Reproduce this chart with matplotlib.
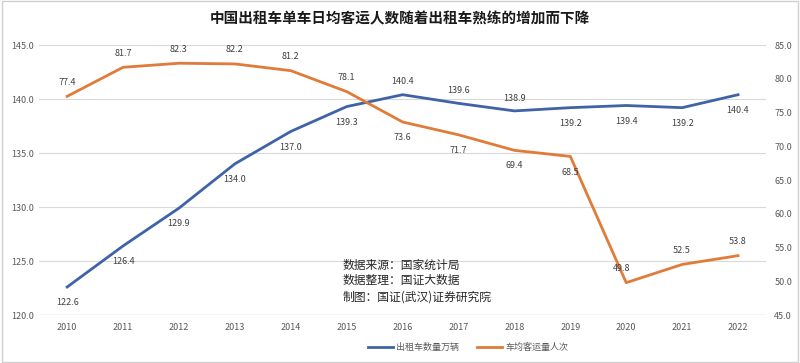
import matplotlib.pyplot as plt
from matplotlib.patches import Rectangle

plt.rcParams['font.family'] = ['Noto Sans CJK SC', 'DejaVu Sans']

# --- données ---
years = ['2010', '2011', '2012', '2013', '2014', '2015', '2016',
         '2017', '2018', '2019', '2020', '2021', '2022']
taxis = [122.6, 126.4, 129.9, 134.0, 137.0, 139.3, 140.4,
         139.6, 138.9, 139.2, 139.4, 139.2, 140.4]
passengers = [77.4, 81.7, 82.3, 82.2, 81.2, 78.1, 73.6,
              71.7, 69.4, 68.5, 49.8, 52.5, 53.8]
taxi_label = '出租车数量万辆'
pass_label = '车均客运量人次'
title = '中国出租车单车日均客运人数随着出租车熟练的增加而下降'
source = '数据来源：国家统计局\n数据整理：国证大数据\n制图：国证(武汉)证券研究院'

blue = '#3F63A6'
orange = '#E07B39'
tick_col = '#595959'

fig = plt.figure(figsize=(8, 3.63), dpi=100)
ax = fig.add_axes([0.049, 0.132, 0.9085, 0.744])
ax2 = ax.twinx()

x = list(range(len(years)))
l1, = ax.plot(x, taxis, color=blue, lw=2.0, label=taxi_label, zorder=3)
l2, = ax2.plot(x, passengers, color=orange, lw=2.0, label=pass_label, zorder=3)

ax.set_xlim(-0.5, len(years) - 0.5)
ax.set_ylim(120, 145)
ax2.set_ylim(45, 85)
ax.set_yticks(range(120, 146, 5))
ax2.set_yticks(range(45, 86, 5))
ax.set_yticklabels([f'{v:.1f}' for v in range(120, 146, 5)])
ax2.set_yticklabels([f'{v:.1f}' for v in range(45, 86, 5)])
ax.set_xticks(x)
ax.set_xticklabels(years)

for a in (ax, ax2):
    for s in a.spines.values():
        s.set_visible(False)
    a.tick_params(length=0, labelsize=6.5, labelcolor=tick_col)
ax.tick_params(axis='x', pad=6)
ax.tick_params(axis='y', pad=4)
ax2.tick_params(axis='y', pad=6)
ax.grid(axis='y', color='#D9D9D9', lw=0.8)
ax.set_axisbelow(True)
ax.axhline(120, color='#BFBFBF', lw=0.9, zorder=1)

# étiquettes des valeurs
for i, v in enumerate(taxis):
    above = years[i] in ('2016', '2017', '2018')
    ax.annotate(f'{v:.1f}', (i, v), xytext=(0, 6 if above else -8),
                textcoords='offset points', ha='center',
                va='bottom' if above else 'top', fontsize=6.5, color='#404040')
for i, v in enumerate(passengers):
    below = years[i] in ('2016', '2017', '2018', '2019')
    dx = -3 if years[i] == '2020' else 0
    ax2.annotate(f'{v:.1f}', (i, v), xytext=(dx, -8 if below else 7),
                 textcoords='offset points', ha='center',
                 va='top' if below else 'bottom', fontsize=6.5, color='#404040')

fig.text(0.5, 0.95, title, ha='center', va='center', fontsize=10.5,
         fontweight='bold', color='#1A1A1A')
fig.text(0.428, 0.226, source, ha='left', va='center', fontsize=8.5,
         color='#262626', linespacing=1.3)

fig.legend(handles=[l1, l2], loc='center', bbox_to_anchor=(0.585, 0.043),
           ncol=2, frameon=False, fontsize=6.5, labelcolor=tick_col,
           handlelength=2.8, columnspacing=2.0, handletextpad=0.3)

fig.patches.append(Rectangle((0.002, 0.003), 0.996, 0.994, transform=fig.transFigure,
                             fill=False, edgecolor='#D0D0D0', lw=1))

fig.savefig('out.png', dpi=100)
